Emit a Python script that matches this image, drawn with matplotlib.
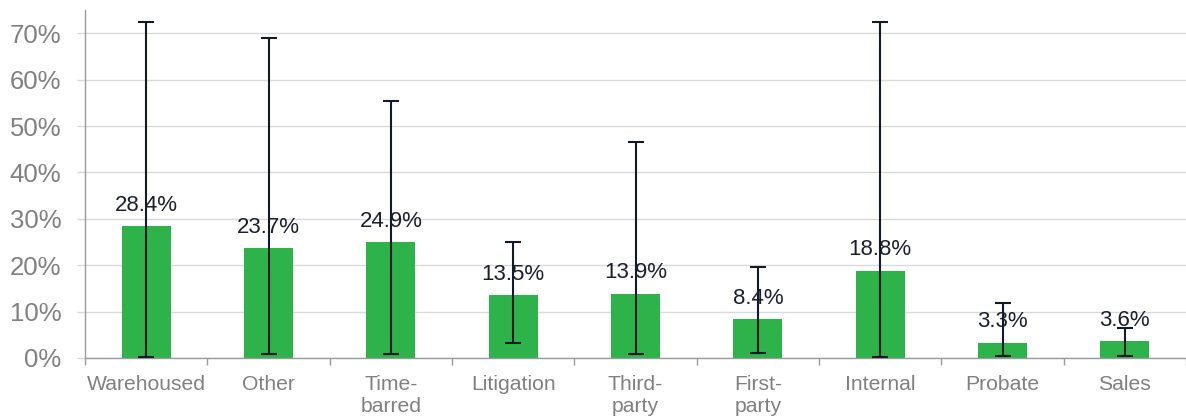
import numpy as np
import matplotlib.pyplot as plt
from matplotlib.ticker import FuncFormatter

plt.rcParams['font.family'] = ['Liberation Sans', 'DejaVu Sans']

# categories and values (percent)
categories = ['Warehoused', 'Other', 'Time-\nbarred', 'Litigation', 'Third-\nparty',
              'First-\nparty', 'Internal', 'Probate', 'Sales']
values = [28.4, 23.7, 24.9, 13.5, 13.9, 8.4, 18.8, 3.3, 3.6]
ci_low = [0.2, 0.9, 0.9, 3.2, 0.9, 1.1, 0.2, 0.4, 0.45]
ci_high = [72.4, 68.9, 55.4, 25.1, 46.6, 19.7, 72.4, 11.9, 6.4]

x = np.arange(len(categories))
vals = np.array(values)
yerr = np.array([vals - np.array(ci_low), np.array(ci_high) - vals])

fig = plt.figure(figsize=(11.86, 4.19), dpi=100)
ax = fig.add_axes([0.0717, 0.1456, 0.9283, 0.8305])

ax.bar(x, vals, width=0.4, color='#2eb34b', zorder=2)
ax.errorbar(x, vals, yerr=yerr, fmt='none', ecolor='#111a26', elinewidth=1.5,
            capsize=6, capthick=1.5, zorder=3)

for xi, v in zip(x, vals):
    ax.annotate(f'{v:.1f}%', (xi, v), xytext=(0, 11), textcoords='offset points',
                ha='center', va='baseline', fontsize=16, color='#1a1f2e', zorder=4)

ax.set_xlim(-0.5, len(categories) - 0.5)
ax.set_ylim(0, 75)
ax.set_yticks(np.arange(0, 71, 10))
ax.yaxis.set_major_formatter(FuncFormatter(lambda v, p: f'{v:.0f}%'))
ax.tick_params(axis='y', labelsize=18.5, labelcolor='#808080', color='#d9d9d9',
               length=6, width=1, pad=11)
ax.grid(axis='y', color='#d9d9d9', linewidth=1, zorder=0)

ax.set_xticks(x)
ax.set_xticklabels(categories, fontsize=15.2, color='#808080', linespacing=1.25)
ax.tick_params(axis='x', which='major', length=0, pad=12)
ax.set_xticks(np.arange(-0.5, len(categories), 1), minor=True)
ax.tick_params(axis='x', which='minor', length=5, color='#9a9a9a', width=1)

for s in ['top', 'right']:
    ax.spines[s].set_visible(False)
for s in ['left', 'bottom']:
    ax.spines[s].set_color('#9a9a9a')
    ax.spines[s].set_linewidth(1)

fig.savefig('out.png', dpi=100)
